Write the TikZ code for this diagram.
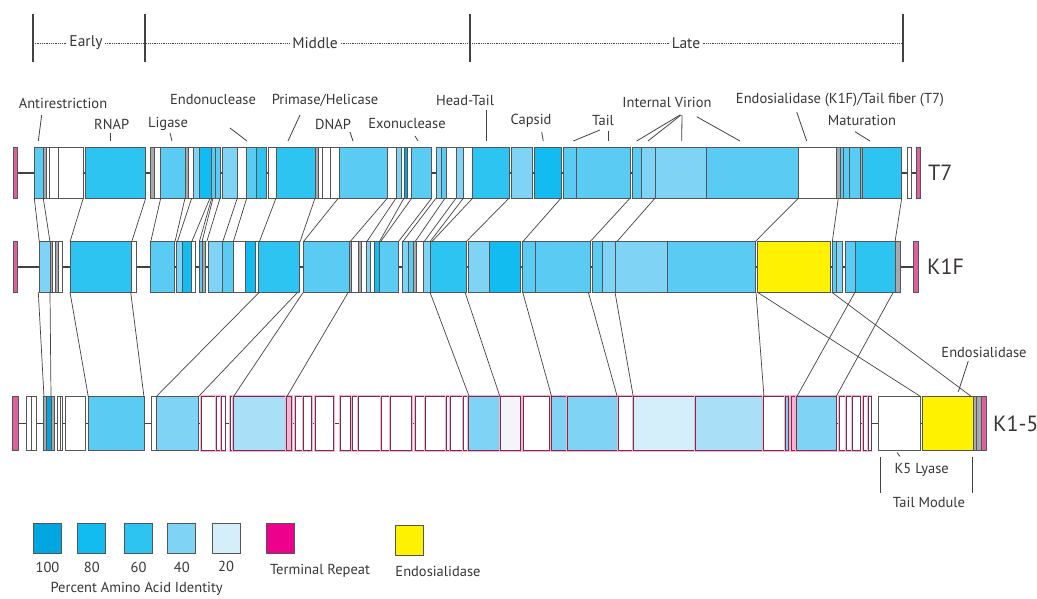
\documentclass[tikz,border=0pt]{standalone}
\usepackage{fontspec}
\setmainfont{PT Sans}
\usetikzlibrary{positioning}
\definecolor{phgInk}{RGB}{35,31,32}
\definecolor{phgEdge}{RGB}{85,85,85}
\definecolor{gA}{HTML}{00A6DF}
\definecolor{gB}{HTML}{12BCF0}
\definecolor{gC}{HTML}{2EC4F1}
\definecolor{gD}{HTML}{5ACBF3}
\definecolor{gE}{HTML}{7FD3F5}
\definecolor{gF}{HTML}{A9DFF7}
\definecolor{gG}{HTML}{D4EEFA}
\definecolor{gH}{HTML}{F3F5FB}
\definecolor{gy}{HTML}{A7A9AC}
\definecolor{w}{HTML}{FFFFFF}
\definecolor{Y}{HTML}{FFF200}
\definecolor{tr}{HTML}{E0609F}
\definecolor{phgMag}{HTML}{EC008C}
\definecolor{phgMaroon}{HTML}{7A2E4E}
\definecolor{phgHalo}{HTML}{F4B3CF}

\begin{document}
\begin{tikzpicture}[x=1pt,y=-1pt]
\tikzset{
rowbox/.style={draw=none,inner sep=0pt},
spine/.style={draw=phgInk!85,line width=1.3pt},
gene/.style={draw=phgEdge,line width=1pt},
uniq/.style={draw=phgMaroon,line width=.85pt,preaction={draw=phgHalo,line width=2.8pt}},
link/.style={draw=phgInk!85,line width=.7pt},
lead/.style={draw=phgInk!85,line width=.8pt},
genetxt/.style={font=\fontsize{14.5}{16}\selectfont,text=phgInk!90,inner sep=2pt},
rowname/.style={font=\fontsize{22}{24}\selectfont,text=phgInk!90,inner sep=0pt,anchor=west},
phase/.style={font=\fontsize{15.5}{17}\selectfont,text=phgInk!90,fill=white,inner xsep=2pt,inner ysep=1pt},
tick/.style={draw=phgInk!85,line width=1.8pt},
keybox/.style={draw=phgEdge,line width=1pt,minimum width=28pt,minimum height=30pt,inner sep=0pt},
keytxt/.style={font=\fontsize{14.5}{16}\selectfont,text=phgInk!90,inner sep=1pt}
}
\useasboundingbox (0,0) rectangle (1037,599);

% time course
\foreach \x in {33,145,470,903}
  \draw[tick] (\x,14) -- (\x,62);
\draw[phgInk!85,line width=.7pt,dash pattern=on .9pt off .9pt] (33,43) -- (903,43);
\node[phase] (early) at (86,43) {Early};
\node[phase] (middle) at (315,43) {Middle};
\node[phase] (late) at (686,43) {Late};

% genome rows
\node[rowbox,minimum width=907.4pt,minimum height=50pt] (t7) at (467,173) {};
\node[rowbox,minimum width=905pt,minimum height=50pt] (k1f) at (465.8,267) {};
\node[rowbox,minimum width=974pt,minimum height=53pt] (k15) at (499.7,423.5) {};
\draw[spine] (t7.west) -- (t7.east);
\draw[spine] (k1f.west) -- (k1f.east);
\draw[spine] (k15.west) -- (k15.east);

% T7
\foreach \a/\b/\col in {13.3/17.3/tr,34.3/43.3/gD,43.3/46.7/gy,46.7/49.3/w,49.3/58.3/w,58.3/83.3/w,
  85.7/145.7/gC,150/154/gy,154/160.7/w,160.7/185/gD,185/188/gy,188/193.3/w,193.3/199.3/gE,
  199.3/211.7/gB,211.7/215/gD,215/220/gD,222.3/237.3/gE,237.3/246.7/w,246.7/256.7/gD,
  256.7/266.7/gC,268.7/276/w,276/315/gC,315/318/gy,318/322.7/w,322.7/330/w,330/339.3/w,
  339.3/387.3/gD,387.3/396/w,396/401.7/gE,401.7/404/w,404/407.3/gA,407.3/411.7/w,
  411.7/431.7/gD,436/441.7/gE,441.7/446.7/gD,446.7/456/w,456/463.3/gE,463.3/472.7/w,
  472.7/509/gC,511.7/532.7/gE,534/561/gB,563.3/576.7/gD,576.7/630/gD,632.7/641.7/gD,
  641.7/655/gE,655/706.7/gE,706.7/798.3/gD,798.3/836.7/w,836.7/840/gy,840/843.3/gD,
  843.3/849.3/gD,849.3/860/gD,860/862.7/gy,862.7/901.7/gC,907/911.7/w,916.7/920.7/tr}
  \draw[gene,fill=\col] (\a,0 |- t7.north) rectangle (\b,0 |- t7.south);

% K1F
\foreach \a/\b/\col in {13.3/17.3/tr,39.3/50/gE,50/52.7/gy,52.7/55.3/w,55.3/58.3/gy,58.3/62/w,
  70/131.7/gC,131.7/136/w,150.7/174/gD,176.7/182.7/gE,182.7/191.7/gB,191.7/195/w,
  199.3/202.3/gD,202.3/205.7/gy,208.3/222.7/gE,222.7/233.3/gD,233.3/245/w,245/255/gB,
  255/258.3/w,258.3/299/gC,303.3/349/gD,349/351.7/gy,351.7/358.3/w,358.3/361.7/gy,
  361.7/366.7/w,366.7/370.7/gE,370.7/374.3/w,374.3/379.3/gB,379.3/398.3/gD,402.7/408.3/gE,
  408.3/413.3/gD,413.3/416/gy,416/423.3/w,423.3/430/gE,430/466/gC,468.7/489.3/gE,
  489.3/520/gB,522.7/535/gD,535/590/gD,592/602.7/gD,602.7/615.7/gE,615.7/667.3/gE,
  667.3/755/gD,757.3/830.7/Y,832.3/836.7/gD,836.7/842.7/gE,845/855/gD,855/895/gC,
  895/900/gy,913.3/918.3/tr}
  \draw[gene,fill=\col] (\a,0 |- k1f.north) rectangle (\b,0 |- k1f.south);

% K1-5, shared genes
\foreach \a/\b/\col in {12.7/18.3/tr,26.7/31.7/w,31.7/36.7/w,43.3/46.7/gy,46.7/51.7/gA,
  51.7/54.7/gy,57.3/60/w,60/62.7/w,65.7/85/w,88.3/144/gD,151.7/156/w,156/198.3/gE,
  878.3/920/w,922.7/973.3/Y,973.3/976.7/gy,976.7/981.7/gy,981.7/986.7/tr}
  \draw[gene,fill=\col] (\a,0 |- k15.north) rectangle (\b,0 |- k15.south);
% K1-5, own block
\foreach \a/\b/\col in {201.7/216.7/w,216.7/221.7/w,221.7/225/w,230/233.3/w,233.3/286.7/gF,
  286.7/291.7/phgHalo,295/303.3/w,303.3/311.7/w,315/333.3/w,340/350/w,352.7/358.3/w,
  358.3/381.7/w,381.7/390/w,390/411.7/w,415/425/w,425/446.7/w,446.7/450/w,450/463.3/w,
  463.3/468.3/w,468.3/500.7/gE,500.7/520.7/gH,523.3/549.3/w,551.7/567.3/gE,567.3/618.3/gE,
  618.3/633.3/w,633.3/695/gG,695/763.3/gF,763.3/785/w,785/788.3/gE,791.7/796.7/phgHalo,
  796.7/836/gE,839.3/846.7/w,846.7/852.7/w,852.7/860/w,863.3/868.3/w,868.3/871/w}
  \draw[uniq,fill=\col] (\a,0 |- k15.north) rectangle (\b,0 |- k15.south);

% homologues T7 -> K1F
\foreach \p/\q in {34.3/39.3,43.3/50,83.3/70,145.7/131.7,160.7/150.7,185/175,191.7/177.3,
  210/191.7,211.7/199.3,213/202,220/206.7,237.3/222.7,246.7/233.3,276/259.3,315/300,
  338.3/303.3,387.3/350,396/366.7,404/379.3,411.7/380.5,431.7/398.3,436/402.7,445/415,
  456/424,463.3/430,472.7/431.7,509/466,561/522.7,630/590,655/616.7,798.3/755,
  838.3/832.3,901.7/895}
  \draw[link] (\p,0 |- t7.south) -- (\q,0 |- k1f.north);
% homologues K1F -> K1-5
\foreach \p/\q in {38.3/44,50/51,70/88.3,130.7/144,259.3/156,297.7/198.3,303.3/233.3,
  348.3/286.7,430/469.3,465/500,522.7/551.7,588.3/617.3,615/633.3,756/764,757.3/921,
  831.7/971.7,855/796.7,893.3/836}
  \draw[link] (\p,0 |- k1f.south) -- (\q,0 |- k15.north);

\node[rowname,right=7pt of t7] (t7name) {T7};
\node[rowname,right=8.5pt of k1f] (k1fname) {K1F};
\node[rowname,right=6pt of k15] (k15name) {K1-5};

% gene labels
\node[genetxt] (antir) at (63,103) {Antirestriction};
\node[genetxt] (rnap) at (111.7,124) {RNAP};
\node[genetxt] (ligase) at (168,124) {Ligase};
\node[genetxt] (endo) at (213,100) {Endonuclease};
\node[genetxt] (prim) at (325,100) {Primase/Helicase};
\node[genetxt] (dnap) at (333,124) {DNAP};
\node[genetxt] (exo) at (407,124) {Exonuclease};
\node[genetxt] (headtail) at (465,100) {Head-Tail};
\node[genetxt] (capsid) at (531,121) {Capsid};
\node[genetxt] (tail) at (603,120) {Tail};
\node[genetxt] (intvir) at (667,102) {Internal Virion};
\node[genetxt] (fiber) at (840,100) {Endosialidase (K1F)/Tail fiber (T7)};
\node[genetxt] (matur) at (862,120) {Maturation};
\foreach \xa/\ya/\xb in {41.7/115/38.3,110/133/110,170/133/172,230/128/247,300/115/288,
  350/132/353,415/136/418,486.7/110/486.7,541.7/132/543.3,600/130/573.3,608/131/608,
  680/115/636.7,681/115/648,682/115/681.7,696.7/116.7/740,796.7/112/806.7,855/131.7/870}
  \draw[lead] (\xa,\ya) -- (\xb,141);

% K1-5 tail labels
\node[genetxt] (endos) at (984,352) {Endosialidase};
\draw[lead] (968.3,361) -- (958.3,391.7);
\node[genetxt] (k5lyase) at (921.7,470) {K5 Lyase};
\draw[lead] (897,452.5) -- (900,456.5);
\draw[lead] (880,457) -- (880,493);
\draw[lead] (972.7,457) -- (972.7,493);
\node[genetxt] (tailmod) at (929,502) {Tail Module};

% key
\node[keybox,fill=gA] (k100) at (47.5,538.3) {};
\node[keybox,fill=gB] (k80) at (91.8,538.3) {};
\node[keybox,fill=gC] (k60) at (138.5,538.3) {};
\node[keybox,fill=gE] (k40) at (181.8,538.3) {};
\node[keybox,fill=gG] (k20) at (226,538.3) {};
\node[keybox,fill=phgMag] (ktr) at (280.8,538.3) {};
\node[keybox,fill=Y] (kes) at (409.2,540.5) {};
\node[keytxt,below=7pt of k100] (n100) {100};
\node[keytxt,below=7pt of k80] (n80) {80};
\node[keytxt,below=7pt of k60] (n60) {60};
\node[keytxt,below=7pt of k40] (n40) {40};
\node[keytxt,below=6pt of k20] (n20) {20};
\node[keytxt] (ntr) at (320,571) {Terminal Repeat};
\node[keytxt] (nes) at (438,571) {Endosialidase};
\node[keytxt] (pct) at (136.7,589) {Percent Amino Acid Identity};
\end{tikzpicture}
\end{document}
